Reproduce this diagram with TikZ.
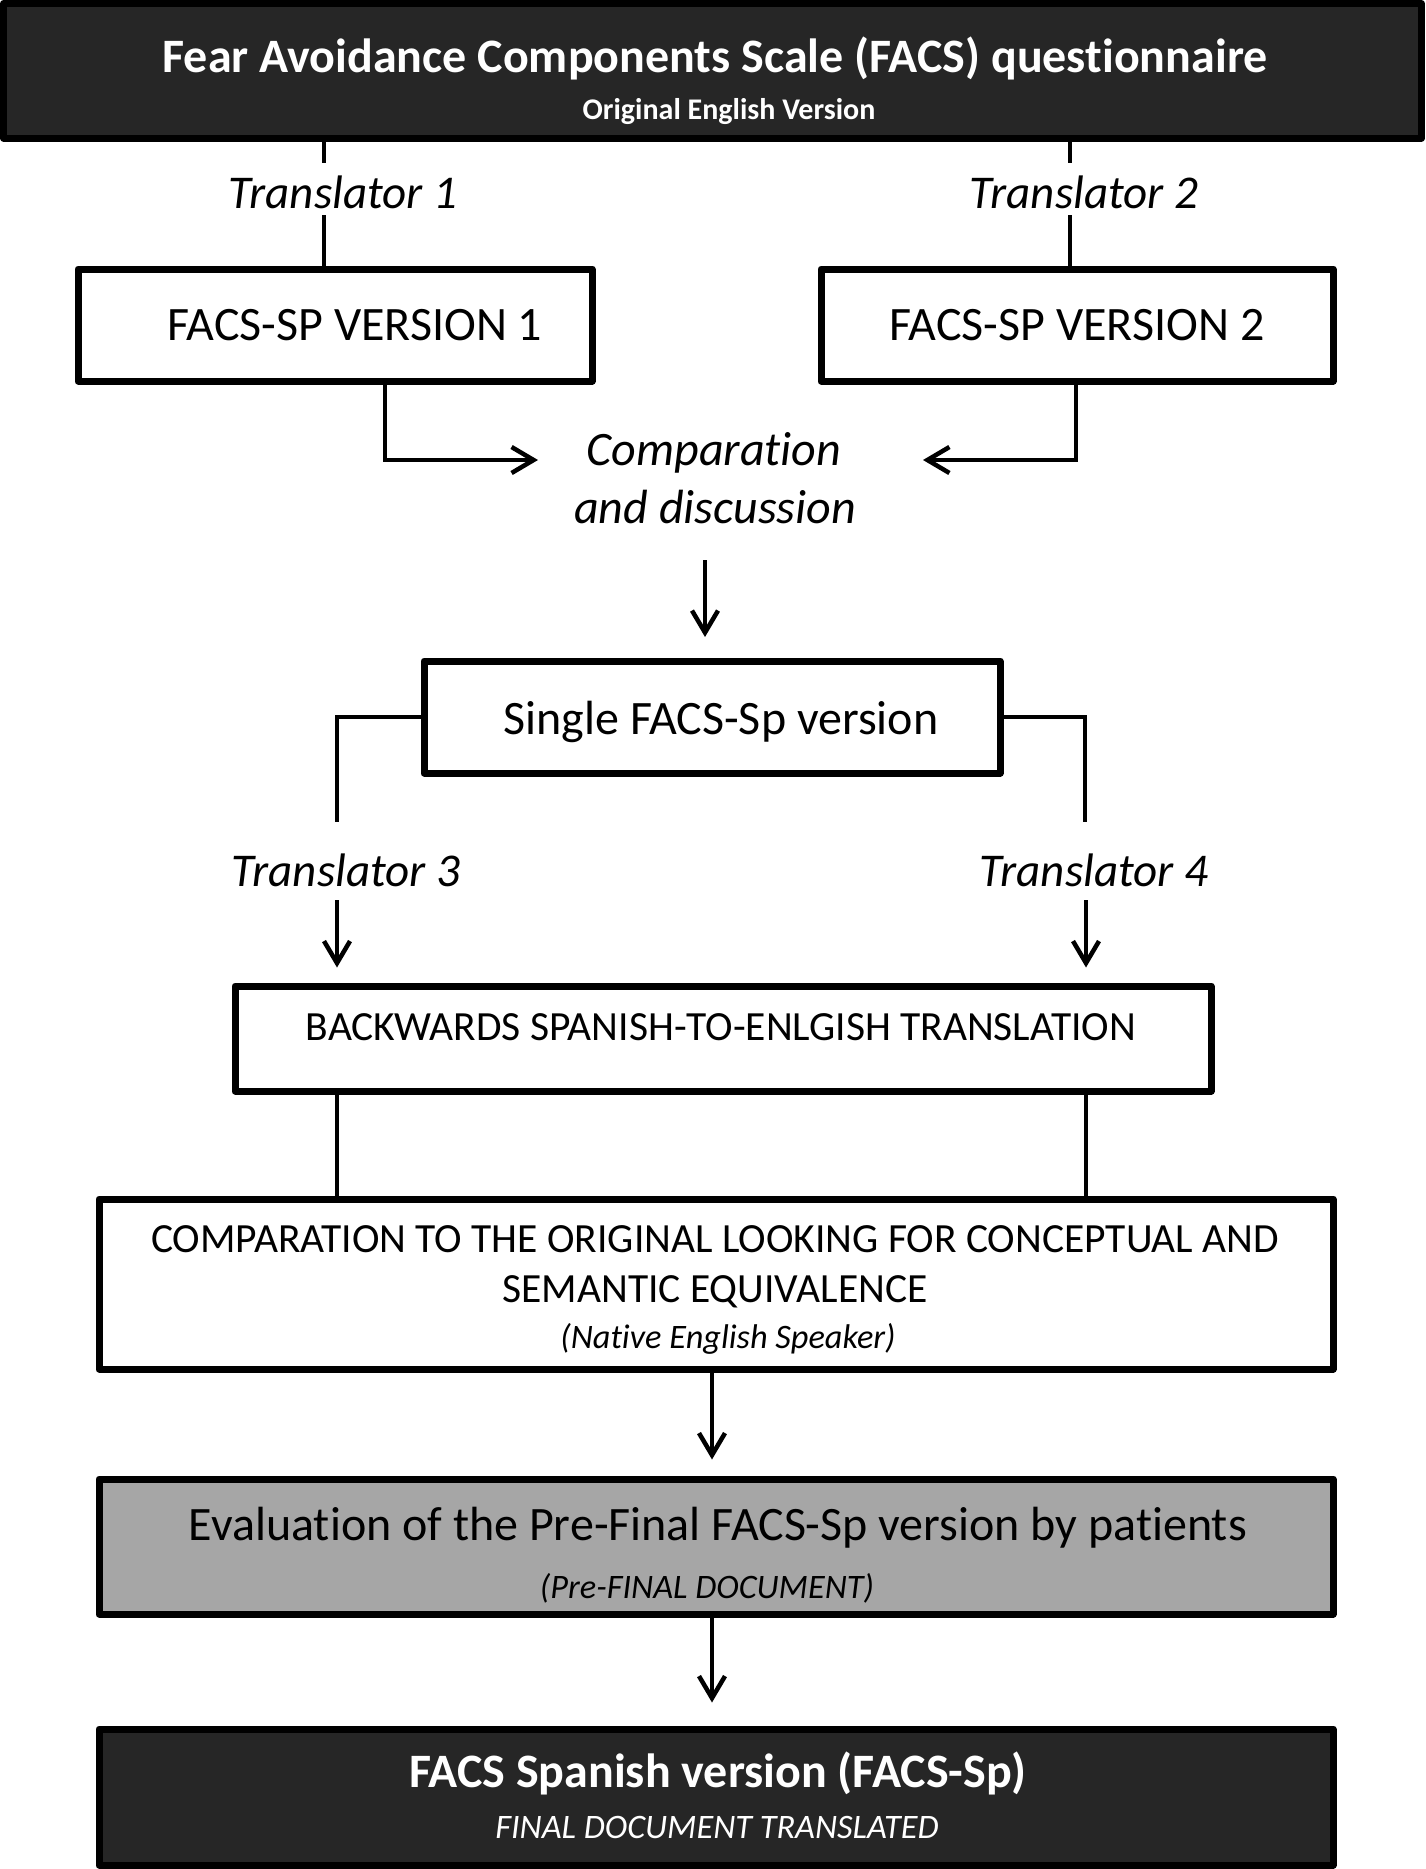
\documentclass[tikz,border=0pt]{standalone}
\usepackage{fontspec}
\setmainfont{Carlito}[Ligatures=NoCommon]
\usetikzlibrary{arrows.meta}
\definecolor{boxdark}{HTML}{262626}
\definecolor{boxgrey}{HTML}{A6A6A6}
\tikzset{every picture/.style={x=1pt,y=-1pt}}
\tikzset{box/.style={rectangle,draw,line width=7pt,inner sep=0pt,line join=round}}
\tikzset{edge/.style={line width=4pt}}
\tikzset{arr/.style={edge,-{Straight Barb[length=22pt,width=26pt,line width=4.5pt]}}}
\tikzset{txt/.style={anchor=base,inner sep=0pt,font=\fontsize{48}{56}\selectfont}}
\tikzset{trans/.style={txt,font=\fontsize{47}{56}\selectfont\itshape}}
\tikzset{caps/.style={txt,font=\fontsize{41.5}{50}\selectfont}}
\tikzset{note/.style={txt,font=\fontsize{34.3}{40}\selectfont\itshape}}

\begin{document}
\begin{tikzpicture}
\useasboundingbox (0,0) rectangle (1425,1869);

\node [box,fill=boxdark,minimum width=1418pt,minimum height=134.5pt] (top) at (712.5,70.75) {};
\node [txt,text=white,font=\fontsize{48}{54}\selectfont\bfseries] (title) at (715,72) {Fear Avoidance Components Scale (FACS) questionnaire};
\node [txt,text=white,font=\fontsize{30}{34}\selectfont\bfseries] (orig) at (729,119) {Original English Version};

\node [trans] (tr1) at (343,208) {Translator 1};
\node [trans] (tr2) at (1084,208) {Translator 2};

\node [box,minimum width=514pt,minimum height=112pt] (v1) at (335,325) {};
\node [box,minimum width=512pt,minimum height=112pt] (v2) at (1077,325) {};
\node [txt] (v1t) at (355,340) {FACS-SP VERSION 1};
\node [txt] (v2t) at (1077,340) {FACS-SP VERSION 2};

\node [trans,font=\fontsize{48}{56}\selectfont\itshape] (cmpa) at (714,465) {Comparation};
\node [trans,font=\fontsize{48}{56}\selectfont\itshape] (cmpb) at (715,523) {and discussion};

\node [box,minimum width=576pt,minimum height=112pt] (sgl) at (712,717) {};
\node [txt] (sglt) at (721,734) {Single FACS-Sp version};

\node [trans] (tr3) at (346,886) {Translator 3};
\node [trans] (tr4) at (1094,886) {Translator 4};

\node [box,minimum width=976pt,minimum height=105pt] (bk) at (723,1038.5) {};
\node [caps] (bkt) at (721,1040) {BACKWARDS SPANISH-TO-ENLGISH TRANSLATION};

\node [box,minimum width=1234pt,minimum height=170pt] (cb) at (716,1284) {};
\node [caps] (cb1) at (715,1252) {COMPARATION TO THE ORIGINAL LOOKING FOR CONCEPTUAL AND};
\node [caps] (cb2) at (715,1302) {SEMANTIC EQUIVALENCE};
\node [note] (cb3) at (728,1348) {(Native English Speaker)};

\node [box,fill=boxgrey,minimum width=1234pt,minimum height=135pt] (ev) at (716,1546.5) {};
\node [txt] (ev1) at (718,1540) {Evaluation of the Pre-Final FACS-Sp version by patients};
\node [note] (ev2) at (707,1598) {(Pre-FINAL DOCUMENT)};

\node [box,fill=boxdark,minimum width=1234pt,minimum height=136pt] (fin) at (716,1797) {};
\node [txt,text=white,font=\fontsize{48}{56}\selectfont\bfseries] (fin1) at (718,1787) {FACS Spanish version (FACS-Sp)};
\node [note,text=white] (fin2) at (717,1838) {FINAL DOCUMENT TRANSLATED};

\coordinate (a1) at (324,163);
\coordinate (a2) at (324,215);
\coordinate (b1) at (1070,163);
\coordinate (b2) at (1070,215);
\draw [edge] (a1 |- top.south) -- (a1);
\draw [edge] (a2) -- (a2 |- v1.north);
\draw [edge] (b1 |- top.south) -- (b1);
\draw [edge] (b2) -- (b2 |- v2.north);

\coordinate (cl) at (538,460);
\coordinate (cr) at (923,460);
\draw [arr] (385,0 |- v1.south) |- (cl);
\draw [arr] (1076,0 |- v2.south) |- (cr);

\coordinate (d1) at (705,560);
\coordinate (d2) at (705,637);
\draw [arr] (d1) -- (d2);

\coordinate (l1) at (337,822);
\coordinate (r1) at (1085,822);
\draw [edge] (sgl.west) -| (l1);
\draw [edge] (sgl.east) -| (r1);

\coordinate (l2) at (337,900);
\coordinate (r2) at (1086,900);
\draw [arr,shorten >=15pt] (l2) -- (l2 |- bk.north);
\draw [arr,shorten >=15pt] (r2) -- (r2 |- bk.north);
\draw [edge] (l2 |- bk.south) -- (l2 |- cb.north);
\draw [edge] (r2 |- bk.south) -- (r2 |- cb.north);

\coordinate (m) at (712,0);
\draw [arr,shorten >=16pt] (m |- cb.south) -- (m |- ev.north);
\draw [arr,shorten >=23pt] (m |- ev.south) -- (m |- fin.north);
\end{tikzpicture}
\end{document}
